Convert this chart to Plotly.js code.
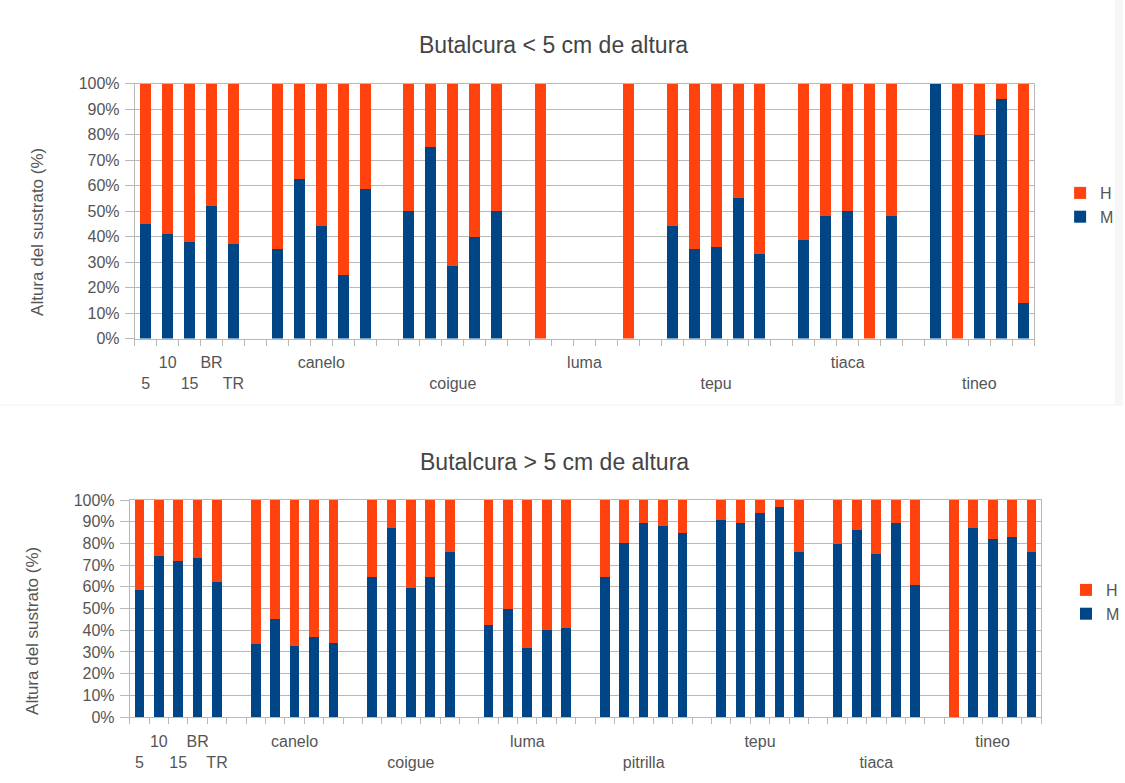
<!DOCTYPE html>
<html>
<head>
<meta charset="utf-8">
<script src="https://cdn.plot.ly/plotly-3.0.1.min.js"></script>
<style>
  html, body { margin: 0; padding: 0; background: #ffffff; }
  #chart { width: 1125px; height: 783px; }
</style>
</head>
<body>
<div id="chart"></div>
<script>
// ---------- DATA ----------
var firstGroupLabels = ["5", "10", "15", "BR", "TR"];

// Top chart: Butalcura < 5 cm de altura
var topGroups = ["", "canelo", "coigue", "luma", "tepu", "tiaca", "tineo"];
var topM = [
  [45, 41, 38, 52, 37],
  [35, 62.5, 44, 25, 58.5],
  [50, 75, 28.5, 40, 50],
  [0, null, null, null, 0],
  [44, 35, 36, 55, 33],
  [38.5, 48, 50, 0, 48],
  [100, 0, 80, 94, 14]
];
var topH = [
  [55, 59, 62, 48, 63],
  [65, 37.5, 56, 75, 41.5],
  [50, 25, 71.5, 60, 50],
  [100, null, null, null, 100],
  [56, 65, 64, 45, 67],
  [61.5, 52, 50, 100, 52],
  [0, 100, 20, 6, 86]
];

// Bottom chart: Butalcura > 5 cm de altura
var botGroups = ["", "canelo", "coigue", "luma", "pitrilla", "tepu", "tiaca", "tineo"];
var botM = [
  [58.5, 74, 72, 73.5, 62],
  [33.5, 45, 32.5, 37, 34],
  [64.5, 87, 59.5, 64.5, 76],
  [42.5, 50, 32, 40, 41],
  [64.5, 80, 89.5, 88, 85],
  [91, 89.5, 94, 97, 76],
  [79.5, 86, 75, 89.5, 61],
  [0, 87, 82, 83, 76]
];
var botH = [
  [41.5, 26, 28, 26.5, 38],
  [66.5, 55, 67.5, 63, 66],
  [35.5, 13, 40.5, 35.5, 24],
  [57.5, 50, 68, 60, 59],
  [35.5, 20, 10.5, 12, 15],
  [9, 10.5, 6, 3, 24],
  [20.5, 14, 25, 10.5, 39],
  [100, 13, 18, 17, 24]
];

var seriesNames = ["M", "H"];
var yTicks = [0, 10, 20, 30, 40, 50, 60, 70, 80, 90, 100];
var yTickText = ["0%", "10%", "20%", "30%", "40%", "50%", "60%", "70%", "80%", "90%", "100%"];

// ---------- BUILD ----------
var COL_M = "#004586", COL_H = "#ff420e";
var SLOT = 6; // 5 bars + 1 empty category per group

function flatten(groups, vals) {
  var xs = [], ys = [];
  for (var g = 0; g < groups.length; g++) {
    for (var j = 0; j < vals[g].length; j++) {
      xs.push(g * SLOT + j);
      ys.push(vals[g][j]);
    }
  }
  return {x: xs, y: ys};
}

function labels(groups) {
  var vals = [], texts = [], row = 1;
  for (var g = 0; g < groups.length; g++) {
    if (g === 0) {
      for (var j = 0; j < firstGroupLabels.length; j++) {
        vals.push(j);
        texts.push(row ? "<br>" + firstGroupLabels[j] : firstGroupLabels[j]);
        row = 1 - row;
      }
    } else {
      vals.push(g * SLOT + 2);
      texts.push(row ? "<br>" + groups[g] : groups[g]);
      row = 1 - row;
    }
  }
  return {vals: vals, texts: texts};
}

var tM = flatten(topGroups, topM), tH = flatten(topGroups, topH);
var bM = flatten(botGroups, botM), bH = flatten(botGroups, botH);
var tL = labels(topGroups), bL = labels(botGroups);
var nTop = topGroups.length * SLOT - 1;
var nBot = botGroups.length * SLOT - 1;

var FONT = "Liberation Sans, Arial, sans-serif";
var TXT = "#555555";
var GRID = "#b8b8b8";

var traces = [
  {type: "bar", name: seriesNames[0], x: tM.x, y: tM.y, xaxis: "x", yaxis: "y",
   marker: {color: COL_M}, width: 0.5, legend: "legend"},
  {type: "bar", name: seriesNames[1], x: tH.x, y: tH.y, xaxis: "x", yaxis: "y",
   marker: {color: COL_H}, width: 0.5, legend: "legend"},
  {type: "bar", name: seriesNames[0], x: bM.x, y: bM.y, xaxis: "x2", yaxis: "y2",
   marker: {color: COL_M}, width: 0.5, legend: "legend2"},
  {type: "bar", name: seriesNames[1], x: bH.x, y: bH.y, xaxis: "x2", yaxis: "y2",
   marker: {color: COL_H}, width: 0.5, legend: "legend2"}
];

function xAxis(domain, n, L, anchor, standoff) {
  return {
    domain: domain, anchor: anchor, range: [-0.5, n - 0.5],
    tickmode: "array", tickvals: L.vals, ticktext: L.texts, tickangle: 0,
    ticks: "", ticklabelstandoff: standoff,
    showgrid: false, zeroline: false,
    showline: true, linecolor: GRID, linewidth: 1, mirror: true,
    tickfont: {family: FONT, size: 16, color: TXT},
    minor: {tickmode: "linear", tick0: -0.5, dtick: 1, ticks: "outside",
            ticklen: 6, tickcolor: GRID, tickwidth: 1, showgrid: false},
    fixedrange: true
  };
}
function yAxis(domain, anchor) {
  return {
    domain: domain, anchor: anchor, range: [0, 100],
    tickmode: "array", tickvals: yTicks, ticktext: yTickText,
    ticks: "outside", ticklen: 9, tickcolor: GRID, ticklabelstandoff: 2,
    showgrid: true, gridcolor: GRID, gridwidth: 1, zeroline: false,
    showline: true, linecolor: GRID, linewidth: 1, mirror: true,
    tickfont: {family: FONT, size: 16, color: TXT},
    fixedrange: true
  };
}

var W = 1125, H = 783;
var layout = {
  width: W, height: H,
  margin: {l: 0, r: 0, t: 0, b: 0},
  paper_bgcolor: "#ffffff", plot_bgcolor: "#ffffff",
  barmode: "stack", showlegend: true,
  font: {family: FONT, color: TXT},
  xaxis: xAxis([135 / W, 1036 / W], nTop, tL, "y", 9),
  yaxis: yAxis([1 - 338.5 / H, 1 - 83.5 / H], "x"),
  xaxis2: xAxis([130 / W, 1043 / W], nBot, bL, "y2", 10),
  yaxis2: yAxis([1 - 717 / H, 1 - 500 / H], "x2"),
  legend: {x: 1062 / W, y: 1 - 176 / H, xanchor: "left", yanchor: "top",
           traceorder: "reversed", bgcolor: "rgba(0,0,0,0)",
           font: {family: FONT, size: 16, color: TXT}, itemwidth: 30, tracegroupgap: 0},
  legend2: {x: 1068 / W, y: 1 - 573 / H, xanchor: "left", yanchor: "top",
            traceorder: "reversed", bgcolor: "rgba(0,0,0,0)",
            font: {family: FONT, size: 16, color: TXT}, itemwidth: 30, tracegroupgap: 0},
  annotations: [
    {text: "Butalcura &lt; 5 cm de altura", xref: "paper", yref: "paper",
     x: 554 / W, y: 1 - 45 / H, xanchor: "center", yanchor: "middle", showarrow: false,
     font: {family: FONT, size: 23, color: "#444444"}},
    {text: "Butalcura &gt; 5 cm de altura", xref: "paper", yref: "paper",
     x: 555 / W, y: 1 - 462 / H, xanchor: "center", yanchor: "middle", showarrow: false,
     font: {family: FONT, size: 23, color: "#444444"}},
    {text: "Altura del sustrato (%)", xref: "paper", yref: "paper", textangle: -90,
     x: 37 / W, y: 1 - 232 / H, xanchor: "center", yanchor: "middle", showarrow: false,
     font: {family: FONT, size: 17, color: TXT}},
    {text: "Altura del sustrato (%)", xref: "paper", yref: "paper", textangle: -90,
     x: 32 / W, y: 1 - 631 / H, xanchor: "center", yanchor: "middle", showarrow: false,
     font: {family: FONT, size: 17, color: TXT}}
  ],
  shapes: [
    {type: "rect", xref: "paper", yref: "paper", x0: 1117 / W, x1: 1, y0: 1 - 405 / H, y1: 1,
     fillcolor: "#f6f6f6", line: {width: 0}, layer: "below"},
    {type: "line", xref: "paper", yref: "paper", x0: 0, x1: 1, y0: 1 - 405 / H, y1: 1 - 405 / H,
     line: {color: "#f2f2f2", width: 1}, layer: "below"}
  ]
};

Plotly.newPlot("chart", traces, layout, {displayModeBar: false, staticPlot: true});
</script>
</body>
</html>
